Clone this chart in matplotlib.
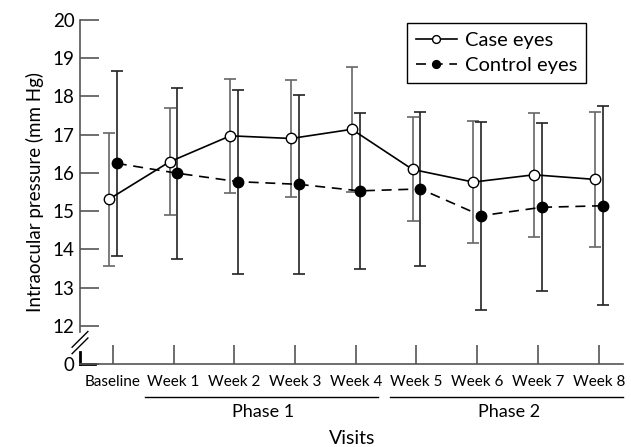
import matplotlib.pyplot as plt
import numpy as np

# visits and intraocular pressure (mm Hg)
visits = ['Baseline', 'Week 1', 'Week 2', 'Week 3', 'Week 4',
          'Week 5', 'Week 6', 'Week 7', 'Week 8']
case_mean = [15.31, 16.29, 16.97, 16.90, 17.14, 16.09, 15.76, 15.95, 15.83]
case_sd = [1.74, 1.40, 1.49, 1.52, 1.64, 1.36, 1.60, 1.62, 1.77]
control_mean = [16.25, 15.99, 15.77, 15.70, 15.53, 15.58, 14.88, 15.10, 15.14]
control_sd = [2.42, 2.24, 2.41, 2.34, 2.04, 2.02, 2.46, 2.20, 2.60]
phases = ['Phase 1', 'Phase 2']

axis_grey = '#555555'
plt.rcParams['font.family'] = ['Lato', 'DejaVu Sans']

fig = plt.figure(figsize=(6.31, 4.47), dpi=100)
ax = fig.add_axes([80 / 631, 1 - 364 / 447, 543 / 631, 344 / 447])

x = np.arange(len(visits))
off = 0.065

ax.errorbar(x - off, case_mean, yerr=case_sd, fmt='none', ecolor='#666666',
            elinewidth=1.2, capsize=4, capthick=1.2, zorder=2)
ax.errorbar(x + off, control_mean, yerr=control_sd, fmt='none', ecolor='#222222',
            elinewidth=1.2, capsize=4, capthick=1.2, zorder=2)
ax.plot(x - off, case_mean, '-', color='black', lw=1.2, marker='o', ms=7.5,
        mfc='white', mec='black', mew=1.0, label='Case eyes', zorder=4)
ax.plot(x + off, control_mean, '--', color='black', lw=1.2, dashes=(6, 4),
        marker='o', ms=7.5, mfc='black', mec='black', label='Control eyes', zorder=3)

ax.set_xlim(-0.54, 8.4)
ax.set_ylim(11, 20)
ax.set_yticks([11, 12, 13, 14, 15, 16, 17, 18, 19, 20])
ax.set_yticklabels(['0', '12', '13', '14', '15', '16', '17', '18', '19', '20'])
ax.set_xticks(x)
ax.set_xticklabels(visits, fontsize=11)
ax.tick_params(axis='y', direction='in', length=14, width=1.2, color=axis_grey,
               labelsize=13.5, pad=4)
ax.tick_params(axis='x', direction='in', length=14, width=1.2, color=axis_grey,
               pad=8)

for side in ['top', 'right', 'left']:
    ax.spines[side].set_visible(False)
ax.spines['bottom'].set_color(axis_grey)
ax.spines['bottom'].set_linewidth(1.2)

# broken y axis
ax.plot([-0.54, -0.54], [20, 11.84], color=axis_grey, lw=1.2, clip_on=False)
ax.plot([-0.54, -0.54], [11.32, 11], color='black', lw=2, clip_on=False)
ax.plot([-0.54, -0.30], [11, 11], color='black', lw=2, clip_on=False)
for dy in [0.0, 0.17]:
    ax.plot([-0.67, -0.41], [11.27 + dy, 11.68 + dy], color='black', lw=1.0,
            clip_on=False)

ax.set_ylabel('Intraocular pressure (mm Hg)', fontsize=13.5, labelpad=6)

# phase brackets under the tick labels, then the axis title
trans = ax.get_xaxis_transform()
ax.plot([0.53, 4.36], [-0.095, -0.095], color='black', lw=1.0,
        transform=trans, clip_on=False)
ax.plot([4.56, 8.4], [-0.095, -0.095], color='black', lw=1.0,
        transform=trans, clip_on=False)
ax.text(2.47, -0.14, phases[0], fontsize=13, ha='center', va='center',
        transform=trans)
ax.text(6.53, -0.14, phases[1], fontsize=13, ha='center', va='center',
        transform=trans)
ax.text(3.94, -0.218, 'Visits', fontsize=14, ha='center', va='center',
        transform=trans)

leg = ax.legend(loc='upper right', bbox_to_anchor=(0.932, 0.991), fontsize=14.5,
                handlelength=2.0, markerscale=0.75, fancybox=False,
                edgecolor='black', framealpha=1, borderpad=0.45,
                labelspacing=0.4, handletextpad=0.4, borderaxespad=0)
leg.get_frame().set_linewidth(1.0)

plt.savefig('out.png', dpi=100)
